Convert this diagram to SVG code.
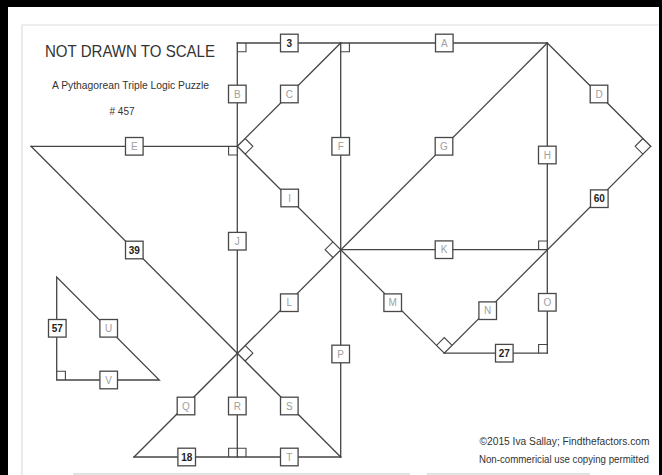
<svg xmlns="http://www.w3.org/2000/svg" width="662" height="475" viewBox="0 0 662 475">
<style>
.ln{stroke:#454545;stroke-width:1.3;fill:none;stroke-linecap:square}
.ra{stroke:#454545;stroke-width:1.1;fill:none}
.bx{fill:#fff;stroke:#484848;stroke-width:1.3}
.lt{font-family:"Liberation Sans",Arial,sans-serif;font-size:10px;fill:#a0a0a0;text-anchor:middle}
.nm{font-family:"Liberation Sans",Arial,sans-serif;font-size:10px;font-weight:bold;fill:#222;text-anchor:middle}
.tx{font-family:"Liberation Sans",Arial,sans-serif;fill:#333}
</style>
<rect x="0" y="0" width="662" height="475" fill="#000"/>
<rect x="8" y="7" width="651" height="468" fill="#fff"/>
<g id="frame" stroke="#dddddd" stroke-width="1.2" fill="none">
<path d="M22,475 V25 H659"/>
<path d="M73,474 H410 M427,474 H590" stroke="#c8c8c8"/>
</g>
<g id="titles">
<text class="tx" x="130" y="57" font-size="16.5" text-anchor="middle" textLength="170" lengthAdjust="spacingAndGlyphs">NOT DRAWN TO SCALE</text>
<text class="tx" x="130.5" y="88.5" font-size="10" text-anchor="middle" textLength="157" lengthAdjust="spacingAndGlyphs">A Pythagorean Triple Logic Puzzle</text>
<text class="tx" x="122" y="115" font-size="10" text-anchor="middle"># 457</text>
<text class="tx" x="564.5" y="445" font-size="10" text-anchor="middle" textLength="170" lengthAdjust="spacingAndGlyphs">©2015 Iva Sallay; Findthefactors.com</text>
<text class="tx" x="564" y="463" font-size="10" text-anchor="middle" textLength="170" lengthAdjust="spacingAndGlyphs">Non-commericial use copying permitted</text>
</g>
<g id="connectors">
<path class="ln" d="M237.3,43 H547.3"/>
<path class="ln" d="M237.3,43 V457"/>
<path class="ln" d="M340.7,43 V457"/>
<path class="ln" d="M547.3,43 V353.2"/>
<path class="ln" d="M31,146.3 H237.3"/>
<path class="ln" d="M340.7,43 L237.3,146.3"/>
<path class="ln" d="M237.3,146.3 L340.7,249.7"/>
<path class="ln" d="M31,146.3 L340.7,457"/>
<path class="ln" d="M547.3,43 L134,457"/>
<path class="ln" d="M340.7,249.7 H547.3"/>
<path class="ln" d="M340.7,249.7 L444.3,353.2"/>
<path class="ln" d="M444.3,353.2 L650.7,146.3"/>
<path class="ln" d="M547.3,43 L650.7,146.3"/>
<path class="ln" d="M444.3,353.2 H547.3"/>
<path class="ln" d="M134,457 H340.7"/>
<path class="ln" d="M56.7,277 V380 H159.3 Z"/>
</g>
<g id="right-angles">
<path class="ra" d="M237.3,51.7 H246 V43"/>
<path class="ra" d="M340.7,51.7 H349.4 V43"/>
<path class="ra" d="M228.6,146.3 V155 H237.3"/>
<path class="ra" d="M245.1,138.5 L252.9,146.3 L245.1,154.1"/>
<path class="ra" d="M332.9,241.9 L325.1,249.7 L332.9,257.5"/>
<path class="ra" d="M245.1,345.4 L252.9,353.2 L245.1,361"/>
<path class="ra" d="M436.5,345.4 L444.3,337.6 L452.1,345.4"/>
<path class="ra" d="M642.9,138.5 L635.1,146.3 L642.9,154.1"/>
<path class="ra" d="M538.6,249.7 V241 H547.3"/>
<path class="ra" d="M538.6,353.2 V344.5 H547.3"/>
<path class="ra" d="M228.6,457 V448.3 H246 V457"/>
<path class="ra" d="M56.7,371.3 H65.4 V380"/>
</g>
<g id="n3"><rect class="bx" x="280.5" y="34.2" width="17.6" height="17.6"/><text class="nm" x="289.3" y="46.6">3</text></g>
<g id="nA"><rect class="bx" x="435.5" y="34.2" width="17.6" height="17.6"/><text class="lt" x="444.3" y="46.6">A</text></g>
<g id="nB"><rect class="bx" x="228.5" y="85.2" width="17.6" height="17.6"/><text class="lt" x="237.3" y="97.6">B</text></g>
<g id="nC"><rect class="bx" x="280.5" y="85.2" width="17.6" height="17.6"/><text class="lt" x="289.3" y="97.6">C</text></g>
<g id="nD"><rect class="bx" x="590.2" y="85.2" width="17.6" height="17.6"/><text class="lt" x="599" y="97.6">D</text></g>
<g id="nE"><rect class="bx" x="125.5" y="137.5" width="17.6" height="17.6"/><text class="lt" x="134.3" y="149.9">E</text></g>
<g id="nF"><rect class="bx" x="331.9" y="137.5" width="17.6" height="17.6"/><text class="lt" x="340.7" y="149.9">F</text></g>
<g id="nG"><rect class="bx" x="435.2" y="137.5" width="17.6" height="17.6"/><text class="lt" x="444" y="149.9">G</text></g>
<g id="nH"><rect class="bx" x="538.5" y="146.2" width="17.6" height="17.6"/><text class="lt" x="547.3" y="158.6">H</text></g>
<g id="nI"><rect class="bx" x="280.9" y="189.2" width="17.6" height="17.6"/><text class="lt" x="289.7" y="201.6">I</text></g>
<g id="n60"><rect class="bx" x="590.5" y="189.9" width="17.6" height="17.6"/><text class="nm" x="599.3" y="202.3">60</text></g>
<g id="nJ"><rect class="bx" x="228.5" y="232.4" width="17.6" height="17.6"/><text class="lt" x="237.3" y="244.8">J</text></g>
<g id="nK"><rect class="bx" x="435.2" y="240.9" width="17.6" height="17.6"/><text class="lt" x="444" y="253.3">K</text></g>
<g id="n39"><rect class="bx" x="125.5" y="241.2" width="17.6" height="17.6"/><text class="nm" x="134.3" y="253.6">39</text></g>
<g id="nL"><rect class="bx" x="280.5" y="293.9" width="17.6" height="17.6"/><text class="lt" x="289.3" y="306.3">L</text></g>
<g id="nM"><rect class="bx" x="383.9" y="293.9" width="17.6" height="17.6"/><text class="lt" x="392.7" y="306.3">M</text></g>
<g id="nN"><rect class="bx" x="478.9" y="301.9" width="17.6" height="17.6"/><text class="lt" x="487.7" y="314.3">N</text></g>
<g id="nO"><rect class="bx" x="538.5" y="293.5" width="17.6" height="17.6"/><text class="lt" x="547.3" y="305.9">O</text></g>
<g id="nP"><rect class="bx" x="331.9" y="345.2" width="17.6" height="17.6"/><text class="lt" x="340.7" y="357.6">P</text></g>
<g id="n27"><rect class="bx" x="495.5" y="344.4" width="17.6" height="17.6"/><text class="nm" x="504.3" y="356.8">27</text></g>
<g id="n57"><rect class="bx" x="48.5" y="319.5" width="17.6" height="17.6"/><text class="nm" x="57.3" y="331.9">57</text></g>
<g id="nU"><rect class="bx" x="99.9" y="319.5" width="17.6" height="17.6"/><text class="lt" x="108.7" y="331.9">U</text></g>
<g id="nV"><rect class="bx" x="99.9" y="371.2" width="17.6" height="17.6"/><text class="lt" x="108.7" y="383.6">V</text></g>
<g id="nQ"><rect class="bx" x="177.2" y="397.2" width="17.6" height="17.6"/><text class="lt" x="186" y="409.6">Q</text></g>
<g id="nR"><rect class="bx" x="228.5" y="397.2" width="17.6" height="17.6"/><text class="lt" x="237.3" y="409.6">R</text></g>
<g id="nS"><rect class="bx" x="280.5" y="397.2" width="17.6" height="17.6"/><text class="lt" x="289.3" y="409.6">S</text></g>
<g id="n18"><rect class="bx" x="177.9" y="448.2" width="17.6" height="17.6"/><text class="nm" x="186.7" y="460.6">18</text></g>
<g id="nT"><rect class="bx" x="280.5" y="448.2" width="17.6" height="17.6"/><text class="lt" x="289.3" y="460.6">T</text></g>
</svg>
